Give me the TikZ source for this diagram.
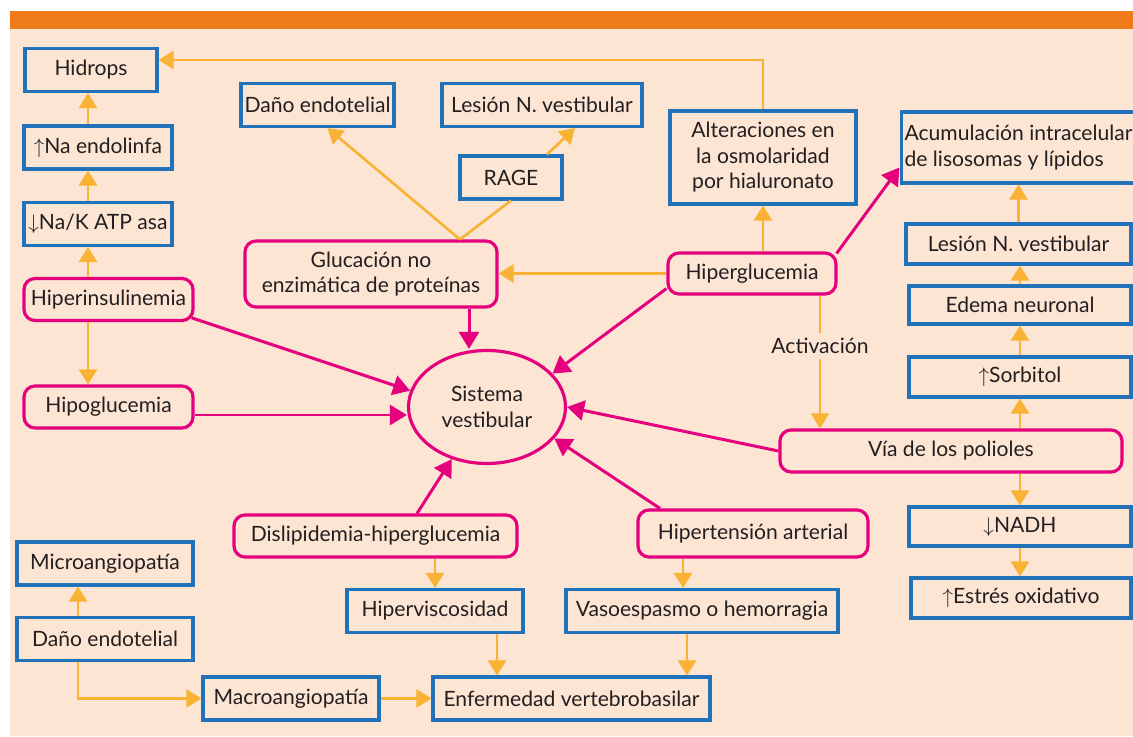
\documentclass[tikz,border=0pt]{standalone}
\usepackage{fontspec}
\setmainfont{Lato}
\usepackage{tikz}
\usetikzlibrary{arrows.meta,shapes.geometric}
\definecolor{peach}{HTML}{FDE5D3}
\definecolor{barorange}{HTML}{EE7A1A}
\definecolor{boxblue}{HTML}{2272B9}
\definecolor{rosa}{HTML}{E5007D}
\definecolor{flecha}{HTML}{F9B233}
\definecolor{tinta}{HTML}{231F20}

\begin{document}
\begin{tikzpicture}[font=\fontsize{12}{14.5}\selectfont]
      \useasboundingbox (0,0) rectangle (22.66,14.72);
      \fill[peach] (0.2,0) rectangle (22.66,14.14);
      \fill[barorange] (0.2,14.14) rectangle (22.66,14.5);
      \begin{scope}[every node/.style={draw=boxblue,line width=1.8pt,minimum height=0.86cm,inner sep=2pt,align=center,text=tinta}]
        \node[minimum width=2.64cm] (hidrops) at (1.82,13.32)  {Hidrops};
        \node[minimum width=2.96cm] (naendo)  at (1.96,11.77)  {$\uparrow$Na endolinfa};
        \node[minimum width=2.96cm] (nak)     at (1.96,10.24)  {$\downarrow$Na/K ATP asa};
        \node[minimum width=2.94cm] (danoA)   at (6.35,12.62)  {Daño endotelial};
        \node[minimum width=4.0cm]  (lesionA) at (10.84,12.62) {Lesión N. vestibular};
        \node[minimum width=2.04cm] (rage)    at (10.22,11.17) {RAGE};
        \node[minimum width=3.72cm,minimum height=1.86cm] (osmol) at (15.26,11.57) {Alteraciones en\\la osmolaridad\\por hialuronato};
        \node[minimum width=4.5cm,minimum height=1.42cm,align=left] (acum) at (20.37,11.77) {Acumulación intracelular\\de lisosomas y lípidos};
        \node[minimum width=4.5cm,minimum height=0.8cm]   (lesionB) at (20.37,9.84) {Lesión N. vestibular};
        \node[minimum width=4.44cm,minimum height=0.76cm] (edema)   at (20.4,8.62)  {Edema neuronal};
        \node[minimum width=4.44cm,minimum height=0.8cm]  (sorb)    at (20.4,7.18)  {$\uparrow$Sorbitol};
        \node[minimum width=4.44cm,minimum height=0.78cm] (nadh)    at (20.4,4.19)  {$\downarrow$NADH};
        \node[minimum width=4.4cm,minimum height=0.8cm]   (estres)  at (20.42,2.76) {$\uparrow$Estrés oxidativo};
        \node[minimum width=3.52cm] (micro)   at (2.1,3.45)   {Microangiopatía};
        \node[minimum width=3.52cm] (danoB)   at (2.1,1.94)   {Daño endotelial};
        \node[minimum width=3.52cm] (macro)   at (5.82,0.75)  {Macroangiopatía};
        \node[minimum width=5.54cm] (enf)     at (11.43,0.75) {Enfermedad vertebrobasilar};
        \node[minimum width=3.52cm] (hiperv)  at (8.7,2.5)    {Hiperviscosidad};
        \node[minimum width=5.44cm] (vaso)    at (14.04,2.5)  {Vasoespasmo o hemorragia};
      \end{scope}
      \begin{scope}[every node/.style={draw=rosa,line width=1.8pt,rounded corners=0.22cm,minimum height=0.84cm,inner sep=2pt,align=center,text=tinta}]
        \node[minimum width=3.38cm] (hins)   at (2.17,8.73)  {Hiperinsulinemia};
        \node[minimum width=3.38cm] (hipo)   at (2.17,6.58)  {Hipoglucemia};
        \node[minimum width=5.04cm,minimum height=1.32cm] (gluc) at (7.42,9.24) {Glucación no\\enzimática de proteínas};
        \node[minimum width=3.36cm,minimum height=0.82cm] (hiperg) at (15.04,9.25) {Hiperglucemia};
        \node[ellipse,minimum width=3.14cm,minimum height=2.26cm,inner sep=0pt] (sis) at (9.74,6.58) {Sistema\\vestibular};
        \node[minimum width=6.84cm] (via)    at (19.02,5.7)  {Vía de los polioles};
        \node[minimum width=5.66cm] (disli)  at (7.51,4.0)   {Dislipidemia-hiperglucemia};
        \node[minimum width=4.6cm,minimum height=0.94cm] (hipert) at (15.06,4.05) {Hipertensión arterial};
      \end{scope}
      \coordinate (lc)  at (1.76,0);
      \coordinate (lc2) at (1.56,0);
      \coordinate (gtop) at ([xshift=1.78cm]gluc.north);
      \coordinate (gbot) at ([xshift=1.96cm]gluc.south);
      \coordinate (hgb)  at ([xshift=1.36cm]hiperg.south);
      \coordinate (vtop) at ([xshift=-0.38cm]vaso.north);
      \coordinate (hvb)  at ([xshift=1.24cm]hiperv.south);
      \coordinate (vsb)  at ([xshift=-0.3cm]vaso.south);
      \coordinate (hpe)  at ([yshift=-0.16cm]hipo.east);
      \coordinate (dtop) at ([xshift=0.83cm]disli.north);
      \coordinate (htop) at ([xshift=-1.86cm]hipert.north);
      \begin{scope}[>={Triangle[length=0.3cm,width=0.36cm]},every edge/.style={draw=flecha,line width=1.5pt}]
        \path (nak.north -| lc) edge[->] (naendo.south -| lc);     \path (naendo.north -| lc) edge[->] (hidrops.south -| lc);
        \path (hins.north -| lc) edge[->] (nak.south -| lc);       \path (hins.south -| lc) edge[->] (hipo.north -| lc);
        \path (hiperg.north -| osmol) edge[->] (osmol.south);      \path (hiperg.west) edge[->] (hiperg.west -| gluc.east);
        \path (gtop) edge[->] ([xshift=0.2cm]danoA.south);         \path (gtop) edge (rage.south);
        \path ([xshift=0.72cm]rage.north) edge[->] ([xshift=0.66cm]lesionA.south);
        \path (via.north -| sorb) edge[->] (sorb.south);           \path (sorb.north) edge[->] (edema.south);
        \path (edema.north) edge[->] (edema.north |- lesionB.south); \path (lesionB.north) edge[->] (acum.south);
        \path (via.south -| nadh) edge[->] (nadh.north);           \path (nadh.south) edge[->] (nadh.south |- estres.north);
        \path (disli.south -| hiperv) edge[->] (hiperv.north);     \path (vtop |- hipert.south) edge[->] (vtop);
        \path (hvb) edge[->] (hvb |- enf.north);                   \path (vsb) edge[->] (vsb |- enf.north);
        \path (danoB.north -| lc2) edge[->] (micro.south -| lc2);  \path (macro.east) edge[->] (enf.west);
        \draw[flecha,line width=1.5pt,->] (osmol.north) |- ([yshift=0.2cm]hidrops.east);
        \draw[flecha,line width=1.5pt,->] (danoB.south -| lc2) |- (macro.west);
        \draw[flecha,line width=1.5pt,->] (hgb) -- node[pos=0.38,fill=peach,text=tinta,inner sep=3pt] (act) {Activación} (hgb |- via.north);
      \end{scope}
      \begin{scope}[>={Triangle[length=0.34cm,width=0.4cm]},every edge/.style={draw=rosa,line width=1.7pt}]
        \path (gbot) edge[->] (gbot |- sis.north);                 \path ([xshift=-0.06cm]hins.-12) edge[->] (sis.168);
        \path (hpe) edge[->] (hpe -| sis.west);                    \path (hiperg.190) edge[->] (sis.27);
        \path ([shift={(-0.02,-0.04)}]hiperg.north east) edge[->] ([yshift=-0.4cm]acum.west);
        \path (via.west) edge[->] (sis.east);                      \path (dtop) edge[->] (sis.236);
        \path (htop) edge[->] (sis.335);
      \end{scope}
\end{tikzpicture}
\end{document}
